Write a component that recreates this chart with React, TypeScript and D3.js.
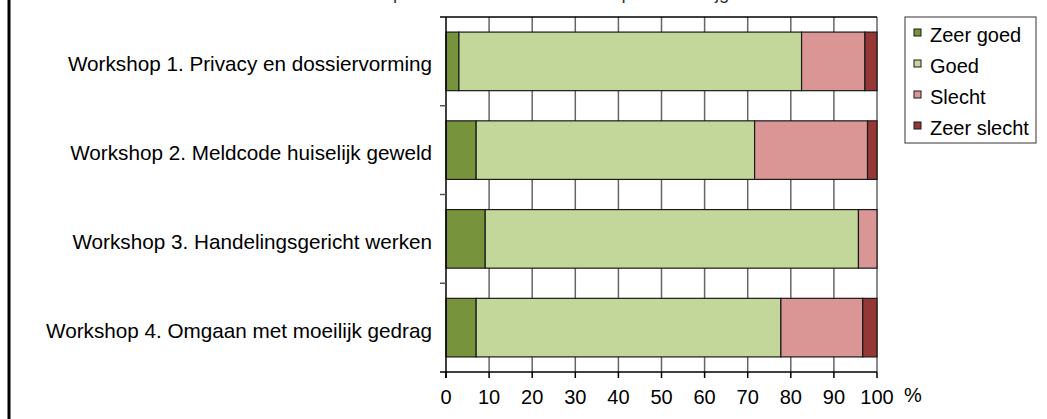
import React from "react";
import * as d3 from "d3";

const title = "Oordeel van de respondenten over de workshops die ze bijgewoond";
const categories = [
  "Workshop 1. Privacy en dossiervorming",
  "Workshop 2. Meldcode huiselijk geweld",
  "Workshop 3. Handelingsgericht werken",
  "Workshop 4. Omgaan met moeilijk gedrag",
];
const seriesNames = ["Zeer goed", "Goed", "Slecht", "Zeer slecht"];
const zeerGoed = [3, 7, 9.1, 7];
const goed = [79.5, 64.6, 86.6, 70.7];
const slecht = [14.7, 26.2, 4.3, 19];
const zeerSlecht = [2.8, 2.2, 0, 3.3];
const xTicks = [0, 10, 20, 30, 40, 50, 60, 70, 80, 90, 100];
const colors = ["#77933C", "#C4D79B", "#D99694", "#953735"];

const W = 1047;
const H = 419;
const plot = { left: 446, right: 877, top: 17, bottom: 372 };
const FONT = "'Liberation Sans', Arial, sans-serif";

export default function App() {
  const rows = categories.map((c, i) => ({
    cat: c,
    "Zeer goed": zeerGoed[i],
    Goed: goed[i],
    Slecht: slecht[i],
    "Zeer slecht": zeerSlecht[i],
  }));
  const stacked = d3.stack<any>().keys(seriesNames)(rows);
  const x = d3.scaleLinear().domain([0, 100]).range([plot.left, plot.right]);
  const y = d3
    .scaleBand<string>()
    .domain(categories)
    .range([plot.top, plot.bottom])
    .paddingInner(0.34)
    .paddingOuter(0.17);
  const step = y.step();
  const bandEdges = d3.range(categories.length + 1).map((i) => plot.top + i * step);

  const legend = { x: 905, y: 17, w: 131, h: 126, rowH: 31 };

  return (
    <svg
      width={W}
      height={H}
      style={{ position: "absolute", left: 0, top: 0, background: "#fff" }}
      fontFamily={FONT}
    >
      {/* left frame */}
      <line x1={9} x2={9} y1={0} y2={H} stroke="#000" strokeWidth={3} />
      {/* title (cropped at the top edge, as in the reference) */}
      <text x={515} y={-1.5} textAnchor="middle" fontSize={18.5} fill="#333">
        {title}
      </text>

      {/* vertical gridlines */}
      {xTicks.slice(1).map((t) => (
        <line key={t} x1={x(t)} x2={x(t)} y1={plot.top} y2={plot.bottom} stroke="#666" strokeWidth={1.5} />
      ))}

      {/* bars */}
      {stacked.map((s, si) => (
        <g key={s.key} fill={colors[si]}>
          {s.map((d, i) =>
            d[1] - d[0] > 0 ? (
              <rect
                key={i}
                x={x(d[0])}
                y={y(categories[i])!}
                width={x(d[1]) - x(d[0])}
                height={y.bandwidth()}
                stroke="#1a1a1a"
                strokeWidth={1.2}
              />
            ) : null
          )}
        </g>
      ))}

      {/* axes */}
      <line x1={440} x2={plot.right} y1={plot.top} y2={plot.top} stroke="#000" strokeWidth={1.5} />
      <line x1={440} x2={plot.right} y1={plot.bottom} y2={plot.bottom} stroke="#000" strokeWidth={1.5} />
      <line x1={plot.left} x2={plot.left} y1={plot.top} y2={plot.bottom + 6} stroke="#000" strokeWidth={1.5} />
      {bandEdges.slice(1, -1).map((e, i) => (
        <line key={i} x1={440} x2={plot.left} y1={e} y2={e} stroke="#555" strokeWidth={1.5} />
      ))}
      {xTicks.map((t) => (
        <g key={t}>
          <line x1={x(t)} x2={x(t)} y1={plot.bottom} y2={plot.bottom + 6} stroke="#000" strokeWidth={1.5} />
          <text x={x(t)} y={404} textAnchor="middle" fontSize={20} fill="#000">
            {t}
          </text>
        </g>
      ))}
      <text x={913} y={401.5} textAnchor="middle" fontSize={20} fill="#000">
        %
      </text>

      {/* category labels */}
      {categories.map((c) => (
        <text key={c} x={432} y={y(c)! + y.bandwidth() / 2 + 10} textAnchor="end" fontSize={20.7} fill="#000">
          {c}
        </text>
      ))}

      {/* legend */}
      <rect x={legend.x} y={legend.y} width={legend.w} height={legend.h} fill="#fff" stroke="#555" strokeWidth={1.2} />
      {seriesNames.map((n, i) => (
        <g key={n}>
          <rect
            x={legend.x + 9}
            y={legend.y + 12 + i * legend.rowH}
            width={7}
            height={7}
            fill={colors[i]}
            stroke="#1a1a1a"
            strokeWidth={1}
          />
          <text x={legend.x + 25} y={legend.y + 24.5 + i * legend.rowH} fontSize={20} fill="#000">
            {n}
          </text>
        </g>
      ))}
    </svg>
  );
}
